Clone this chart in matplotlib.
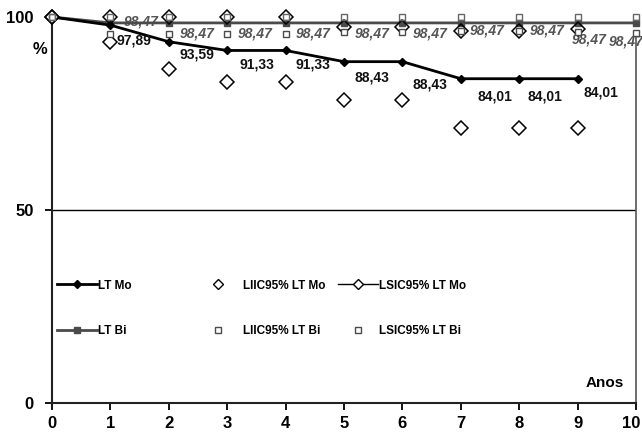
import matplotlib
matplotlib.use("Agg")
import matplotlib.pyplot as plt
import matplotlib.transforms as mtransforms
from matplotlib.lines import Line2D

plt.rcParams['font.family'] = ['Liberation Sans Narrow', 'Liberation Sans', 'DejaVu Sans']

# ---- data ----
years_mo = [0, 1, 2, 3, 4, 5, 6, 7, 8, 9]
years_bi = [0, 1, 2, 3, 4, 5, 6, 7, 8, 9, 10]
lt_mo = [100, 97.89, 93.59, 91.33, 91.33, 88.43, 88.43, 84.01, 84.01, 84.01]
mo_low = [100, 93.5, 86.4, 83.2, 83.2, 78.5, 78.5, 71.2, 71.2, 71.2]
mo_up = [100, 100, 100, 100, 100, 97.3, 97.3, 96.4, 96.4, 96.9]
lt_bi = [100, 98.47, 98.47, 98.47, 98.47, 98.47, 98.47, 98.47, 98.47, 98.47, 98.47]
bi_low = [100, 95.6, 95.6, 95.6, 95.6, 96.1, 96.1, 96.3, 96.3, 96.1, 95.9]
bi_up = [100, 100, 100, 100, 100, 100, 100, 100, 100, 100, 100]
x_ticks = [0, 1, 2, 3, 4, 5, 6, 7, 8, 9, 10]
y_ticks = [0, 50, 100]
legend_names = ["LT Mo", "LT Bi", "LIIC95% LT Mo", "LIIC95% LT Bi", "LSIC95% LT Mo", "LSIC95% LT Bi"]

# label offsets (pixels) - styling
mo_lab_dx = [None, 24, 28, 30, 27, 28, 28, 34, 26, 23]
mo_lab_dy = [None, -15, -13, -14.5, -14.5, -16, -23, -18, -18, -14]
bi_lab_dx = [None, 31, 28, 28, 28, 28, 28, 26, 28, 12, -10]
bi_lab_dy = [None, 1, -11, -11, -11, -11, -11, -8, -8, -17, -19]

W, H = 642, 437
fig = plt.figure(figsize=(W / 100, H / 100), dpi=100)
ax = fig.add_axes([52 / W, 34 / H, 584 / W, 386 / H])
ax.set_xlim(0, 10)
ax.set_ylim(0, 100)

dark = '#4a4a4a'
ax.axhline(50, color='black', lw=1.0, zorder=1)

ax.plot(years_bi, lt_bi, color=dark, lw=2.0, marker='s', ms=5, mfc=dark, mec=dark, zorder=3, clip_on=False)
ax.plot(years_mo, lt_mo, color='black', lw=2.0, marker='D', ms=4, mfc='black', mec='black', zorder=4, clip_on=False)
ax.plot(years_mo, mo_low, ls='none', marker='D', ms=7, mfc='white', mec='black', mew=1.1, zorder=5, clip_on=False)
ax.plot(years_mo, mo_up, ls='none', marker='D', ms=7, mfc='none', mec='black', mew=1.1, zorder=5, clip_on=False)
ax.plot(years_bi, bi_low, ls='none', marker='s', ms=4.5, mfc='white', mec=dark, mew=1.0, zorder=5, clip_on=False)
ax.plot(years_bi, bi_up, ls='none', marker='s', ms=5, mfc='none', mec='#666666', mew=1.0, zorder=5, clip_on=False)

pt = 0.72  # pixels -> points
for x, v, dx, dy in zip(years_mo, lt_mo, mo_lab_dx, mo_lab_dy):
    if dx is None:
        continue
    ax.annotate(f"{v:.2f}".replace('.', ','), (x, v), xytext=(dx * pt, dy * pt),
                textcoords='offset points', ha='center', va='center',
                fontsize=10, fontweight='bold', color='#111111', zorder=6)
for x, v, dx, dy in zip(years_bi, lt_bi, bi_lab_dx, bi_lab_dy):
    if dx is None:
        continue
    ax.annotate(f"{v:.2f}".replace('.', ','), (x, v), xytext=(dx * pt, dy * pt),
                textcoords='offset points', ha='center', va='center',
                fontsize=10, fontweight='bold', fontstyle='italic', color='#555555', zorder=2)

# spines
ax.spines['top'].set_visible(False)
ax.spines['right'].set_bounds(0, 95)
for s in ['left', 'bottom']:
    ax.spines[s].set_linewidth(1.5)
    ax.spines[s].set_color('#222222')
ax.spines['right'].set_linewidth(1.2)
ax.spines['right'].set_color('#555555')

ax.set_xticks(x_ticks)
ax.set_xticklabels([str(t) for t in x_ticks])
ax.set_yticks(y_ticks)
ax.set_yticklabels([str(t) for t in y_ticks])
ax.tick_params(axis='both', direction='out', length=5, width=1.3, labelsize=12)
ax.tick_params(axis='x', pad=4)
ax.tick_params(axis='y', pad=8)
for lab in ax.get_xticklabels() + ax.get_yticklabels():
    lab.set_fontweight('bold')
    lab.set_family(['Liberation Sans', 'DejaVu Sans'])
# keep the last x tick label inside the figure
last = ax.get_xticklabels()[-1]
last.set_transform(last.get_transform() + mtransforms.ScaledTranslation(-5 / 100, 0, fig.dpi_scale_trans))

ax.text(-0.2, 91.5, '%', fontsize=12, fontweight='bold', ha='center', va='center',
        family=['Liberation Sans', 'DejaVu Sans'], clip_on=False)
ax.text(9.47, 5.2, 'Anos', fontsize=11, fontweight='bold', ha='center', va='center',
        family=['Liberation Sans', 'DejaVu Sans'])

# legend (three columns as three legends)
h_mo = Line2D([], [], color='black', lw=2.0, marker='D', ms=4, mfc='black')
h_bi = Line2D([], [], color=dark, lw=2.0, marker='s', ms=5, mfc=dark, mec=dark)
h_mo_low = Line2D([], [], ls='none', marker='D', ms=5, mfc='white', mec='black', mew=1.0)
h_bi_low = Line2D([], [], ls='none', marker='s', ms=4, mfc='white', mec=dark, mew=1.0)
h_mo_up = Line2D([], [], color='black', lw=1.0, marker='D', ms=5, mfc='white', mec='black', mew=1.0)
h_bi_up = Line2D([], [], ls='none', marker='s', ms=4, mfc='white', mec=dark, mew=1.0)

common = dict(frameon=False, loc='center left', borderaxespad=0, borderpad=0,
              handlelength=3.4, labelspacing=2.85, prop={'size': 8.5, 'weight': 'bold'})
leg1 = ax.legend([h_mo, h_bi], legend_names[0:2], bbox_to_anchor=(5 / 584, 0.245),
                 handletextpad=0.05, **common)
ax.add_artist(leg1)
leg2 = ax.legend([h_mo_low, h_bi_low], legend_names[2:4], bbox_to_anchor=(146 / 584, 0.245),
                 handletextpad=0.4, **common)
ax.add_artist(leg2)
leg3 = ax.legend([h_mo_up, h_bi_up], legend_names[4:6], bbox_to_anchor=(286 / 584, 0.245),
                 handletextpad=0.05, **common)

fig.savefig('out.png', dpi=100)
